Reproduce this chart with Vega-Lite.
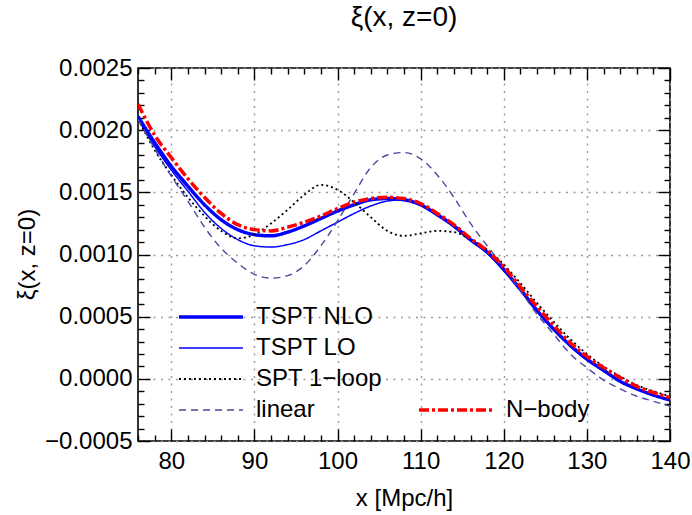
{
  "$schema": "https://vega.github.io/schema/vega-lite/v6.json",
  "width": 532,
  "height": 373,
  "autosize": {"type": "none"},
  "padding": {"left": 138, "top": 68, "right": 22, "bottom": 74},
  "background": "white",
  "config": {
    "font": "Liberation Sans",
    "view": {"stroke": "black", "strokeWidth": 1.6},
    "axis": {"domain": false, "labelFont": "Liberation Sans", "titleFont": "Liberation Sans", "labelColor": "black", "titleColor": "black", "tickColor": "black", "tickWidth": 1.4, "titleFontWeight": "normal"},
    "legend": {"labelFont": "Liberation Sans", "labelFontSize": 24, "labelColor": "black", "labelLimit": 300}
  },
  "title": {"text": "ξ(x, z=0)", "fontSize": 28, "fontWeight": "normal", "font": "Liberation Sans", "color": "black", "offset": 24, "anchor": "middle"},
  "datasets": {
    "curves": [
      {"x":76,"y":0.00211,"s":"TSPT NLO"},{"x":78,"y":0.00190,"s":"TSPT NLO"},{"x":80,"y":0.00171,"s":"TSPT NLO"},{"x":82,"y":0.00155,"s":"TSPT NLO"},{"x":84,"y":0.00140,"s":"TSPT NLO"},{"x":86,"y":0.00128,"s":"TSPT NLO"},{"x":88,"y":0.00120,"s":"TSPT NLO"},{"x":90,"y":0.00116,"s":"TSPT NLO"},{"x":92,"y":0.00115,"s":"TSPT NLO"},{"x":94,"y":0.00118,"s":"TSPT NLO"},{"x":96,"y":0.00123,"s":"TSPT NLO"},{"x":98,"y":0.00129,"s":"TSPT NLO"},{"x":100,"y":0.00135,"s":"TSPT NLO"},{"x":102,"y":0.00140,"s":"TSPT NLO"},{"x":104,"y":0.00144,"s":"TSPT NLO"},{"x":106,"y":0.00145,"s":"TSPT NLO"},{"x":108,"y":0.00144,"s":"TSPT NLO"},{"x":110,"y":0.00140,"s":"TSPT NLO"},{"x":112,"y":0.00132,"s":"TSPT NLO"},{"x":114,"y":0.00123,"s":"TSPT NLO"},{"x":116,"y":0.00112,"s":"TSPT NLO"},{"x":118,"y":0.00102,"s":"TSPT NLO"},{"x":120,"y":0.00088,"s":"TSPT NLO"},{"x":122,"y":0.00072,"s":"TSPT NLO"},{"x":124,"y":0.00055,"s":"TSPT NLO"},{"x":126,"y":0.00040,"s":"TSPT NLO"},{"x":128,"y":0.00027,"s":"TSPT NLO"},{"x":130,"y":0.00016,"s":"TSPT NLO"},{"x":132,"y":0.00007,"s":"TSPT NLO"},{"x":134,"y":-0.00002,"s":"TSPT NLO"},{"x":136,"y":-0.00008,"s":"TSPT NLO"},{"x":138,"y":-0.00013,"s":"TSPT NLO"},{"x":140,"y":-0.00017,"s":"TSPT NLO"},
      {"x":76,"y":0.00209,"s":"TSPT LO"},{"x":78,"y":0.00187,"s":"TSPT LO"},{"x":80,"y":0.00168,"s":"TSPT LO"},{"x":82,"y":0.00151,"s":"TSPT LO"},{"x":84,"y":0.00134,"s":"TSPT LO"},{"x":86,"y":0.00121,"s":"TSPT LO"},{"x":88,"y":0.00112,"s":"TSPT LO"},{"x":90,"y":0.00107,"s":"TSPT LO"},{"x":92,"y":0.00106,"s":"TSPT LO"},{"x":94,"y":0.00108,"s":"TSPT LO"},{"x":96,"y":0.00112,"s":"TSPT LO"},{"x":98,"y":0.00119,"s":"TSPT LO"},{"x":100,"y":0.00126,"s":"TSPT LO"},{"x":102,"y":0.00133,"s":"TSPT LO"},{"x":104,"y":0.00139,"s":"TSPT LO"},{"x":106,"y":0.00143,"s":"TSPT LO"},{"x":108,"y":0.00144,"s":"TSPT LO"},{"x":110,"y":0.00140,"s":"TSPT LO"},{"x":112,"y":0.00132,"s":"TSPT LO"},{"x":114,"y":0.00122,"s":"TSPT LO"},{"x":116,"y":0.00111,"s":"TSPT LO"},{"x":118,"y":0.00101,"s":"TSPT LO"},{"x":120,"y":0.00087,"s":"TSPT LO"},{"x":122,"y":0.00071,"s":"TSPT LO"},{"x":124,"y":0.00055,"s":"TSPT LO"},{"x":126,"y":0.00040,"s":"TSPT LO"},{"x":128,"y":0.00026,"s":"TSPT LO"},{"x":130,"y":0.00015,"s":"TSPT LO"},{"x":132,"y":0.00006,"s":"TSPT LO"},{"x":134,"y":-0.00002,"s":"TSPT LO"},{"x":136,"y":-0.00008,"s":"TSPT LO"},{"x":138,"y":-0.00013,"s":"TSPT LO"},{"x":140,"y":-0.00017,"s":"TSPT LO"},
      {"x":76,"y":0.00209,"s":"SPT 1−loop"},{"x":78,"y":0.00184,"s":"SPT 1−loop"},{"x":80,"y":0.00164,"s":"SPT 1−loop"},{"x":82,"y":0.00146,"s":"SPT 1−loop"},{"x":84,"y":0.00131,"s":"SPT 1−loop"},{"x":86,"y":0.00119,"s":"SPT 1−loop"},{"x":88,"y":0.00113,"s":"SPT 1−loop"},{"x":90,"y":0.00116,"s":"SPT 1−loop"},{"x":92,"y":0.00125,"s":"SPT 1−loop"},{"x":94,"y":0.00136,"s":"SPT 1−loop"},{"x":96,"y":0.00148,"s":"SPT 1−loop"},{"x":98,"y":0.00156,"s":"SPT 1−loop"},{"x":100,"y":0.00152,"s":"SPT 1−loop"},{"x":102,"y":0.00142,"s":"SPT 1−loop"},{"x":104,"y":0.00130,"s":"SPT 1−loop"},{"x":106,"y":0.00119,"s":"SPT 1−loop"},{"x":108,"y":0.00115,"s":"SPT 1−loop"},{"x":110,"y":0.00117,"s":"SPT 1−loop"},{"x":112,"y":0.00119,"s":"SPT 1−loop"},{"x":114,"y":0.00118,"s":"SPT 1−loop"},{"x":116,"y":0.00112,"s":"SPT 1−loop"},{"x":118,"y":0.00104,"s":"SPT 1−loop"},{"x":120,"y":0.00092,"s":"SPT 1−loop"},{"x":122,"y":0.00077,"s":"SPT 1−loop"},{"x":124,"y":0.00061,"s":"SPT 1−loop"},{"x":126,"y":0.00046,"s":"SPT 1−loop"},{"x":128,"y":0.00032,"s":"SPT 1−loop"},{"x":130,"y":0.00020,"s":"SPT 1−loop"},{"x":132,"y":0.00010,"s":"SPT 1−loop"},{"x":134,"y":0.00002,"s":"SPT 1−loop"},{"x":136,"y":-0.00005,"s":"SPT 1−loop"},{"x":138,"y":-0.00010,"s":"SPT 1−loop"},{"x":140,"y":-0.00014,"s":"SPT 1−loop"},
      {"x":76,"y":0.00209,"s":"linear"},{"x":78,"y":0.00185,"s":"linear"},{"x":80,"y":0.00163,"s":"linear"},{"x":82,"y":0.00143,"s":"linear"},{"x":84,"y":0.00122,"s":"linear"},{"x":86,"y":0.00105,"s":"linear"},{"x":88,"y":0.00093,"s":"linear"},{"x":90,"y":0.00084,"s":"linear"},{"x":92,"y":0.00081,"s":"linear"},{"x":94,"y":0.00083,"s":"linear"},{"x":96,"y":0.00091,"s":"linear"},{"x":98,"y":0.00107,"s":"linear"},{"x":100,"y":0.00127,"s":"linear"},{"x":102,"y":0.00149,"s":"linear"},{"x":104,"y":0.00170,"s":"linear"},{"x":106,"y":0.00180,"s":"linear"},{"x":108,"y":0.00182,"s":"linear"},{"x":110,"y":0.00177,"s":"linear"},{"x":112,"y":0.00164,"s":"linear"},{"x":114,"y":0.00146,"s":"linear"},{"x":116,"y":0.00125,"s":"linear"},{"x":118,"y":0.00107,"s":"linear"},{"x":120,"y":0.00090,"s":"linear"},{"x":122,"y":0.00071,"s":"linear"},{"x":124,"y":0.00052,"s":"linear"},{"x":126,"y":0.00036,"s":"linear"},{"x":128,"y":0.00020,"s":"linear"},{"x":130,"y":0.00009,"s":"linear"},{"x":132,"y":-0.00001,"s":"linear"},{"x":134,"y":-0.00008,"s":"linear"},{"x":136,"y":-0.00014,"s":"linear"},{"x":138,"y":-0.00018,"s":"linear"},{"x":140,"y":-0.00022,"s":"linear"}
    ],
    "nbody": [
      {"x":76,"y":0.00221,"s":"N−body"},{"x":78,"y":0.00196,"s":"N−body"},{"x":80,"y":0.00178,"s":"N−body"},{"x":82,"y":0.00161,"s":"N−body"},{"x":84,"y":0.00146,"s":"N−body"},{"x":86,"y":0.00133,"s":"N−body"},{"x":88,"y":0.00124,"s":"N−body"},{"x":90,"y":0.00120,"s":"N−body"},{"x":92,"y":0.00119,"s":"N−body"},{"x":94,"y":0.00122,"s":"N−body"},{"x":96,"y":0.00126,"s":"N−body"},{"x":98,"y":0.00131,"s":"N−body"},{"x":100,"y":0.00137,"s":"N−body"},{"x":102,"y":0.00142,"s":"N−body"},{"x":104,"y":0.00145,"s":"N−body"},{"x":106,"y":0.00146,"s":"N−body"},{"x":108,"y":0.00145,"s":"N−body"},{"x":110,"y":0.00141,"s":"N−body"},{"x":112,"y":0.00133,"s":"N−body"},{"x":114,"y":0.00124,"s":"N−body"},{"x":116,"y":0.00113,"s":"N−body"},{"x":118,"y":0.00103,"s":"N−body"},{"x":120,"y":0.00090,"s":"N−body"},{"x":122,"y":0.00074,"s":"N−body"},{"x":124,"y":0.00058,"s":"N−body"},{"x":126,"y":0.00043,"s":"N−body"},{"x":128,"y":0.00029,"s":"N−body"},{"x":130,"y":0.00018,"s":"N−body"},{"x":132,"y":0.00009,"s":"N−body"},{"x":134,"y":0.00001,"s":"N−body"},{"x":136,"y":-0.00006,"s":"N−body"},{"x":138,"y":-0.00011,"s":"N−body"},{"x":140,"y":-0.00015,"s":"N−body"}
    ]
  },
  "resolve": {
    "scale": {"color": "independent", "strokeDash": "independent", "strokeWidth": "independent"},
    "legend": {"color": "independent", "strokeDash": "independent", "strokeWidth": "independent"},
    "axis": {"x": "independent", "y": "independent"}
  },
  "layer": [
    {
      "data": {"name": "curves"},
      "mark": {"type": "line", "interpolate": "monotone", "clip": true},
      "encoding": {
        "x": {"field": "x", "type": "quantitative", "scale": {"domain": [76, 140], "nice": false, "zero": false},
          "axis": {"orient": "bottom", "values": [80, 90, 100, 110, 120, 130, 140], "ticks": false, "grid": true, "gridColor": "#9a9a9a", "gridDash": [2, 5.5], "gridWidth": 1.4, "labelFontSize": 24, "labelPadding": 8, "title": "x [Mpc/h]", "titleFontSize": 24, "titlePadding": 13, "labelFlush": false}},
        "y": {"field": "y", "type": "quantitative", "scale": {"domain": [-0.0005, 0.0025], "nice": false, "zero": false},
          "axis": {"orient": "left", "values": [-0.0005, 0, 0.0005, 0.001, 0.0015, 0.002, 0.0025], "format": ".4f", "ticks": false, "grid": true, "gridColor": "#9a9a9a", "gridDash": [2, 5.5], "gridWidth": 1.4, "labelFontSize": 24, "labelPadding": 6, "title": "ξ(x, z=0)", "titleFontSize": 24, "titleX": -99, "titleY": 186, "labelFlush": false}},
        "color": {"field": "s", "type": "nominal", "sort": null, "scale": {"domain": ["TSPT NLO", "TSPT LO", "SPT 1−loop", "linear"], "range": ["#0000ff", "#0000ff", "#000000", "#4a4aa0"]},
          "legend": {"orient": "none", "legendX": 39, "legendY": 237, "title": null, "symbolType": "stroke", "symbolSize": 4096, "clipHeight": 24, "rowPadding": 7, "labelOffset": 11, "padding": 0}},
        "strokeDash": {"field": "s", "type": "nominal", "sort": null, "scale": {"domain": ["TSPT NLO", "TSPT LO", "SPT 1−loop", "linear"], "range": [[1, 0], [1, 0], [2, 3], [7, 5]]},
          "legend": {"orient": "none", "legendX": 39, "legendY": 237, "title": null, "symbolType": "stroke", "symbolSize": 4096, "clipHeight": 24, "rowPadding": 7, "labelOffset": 11, "padding": 0}},
        "strokeWidth": {"field": "s", "type": "nominal", "sort": null, "scale": {"type": "ordinal", "domain": ["TSPT NLO", "TSPT LO", "SPT 1−loop", "linear"], "range": [3.5, 1.5, 1.8, 1.4]},
          "legend": {"orient": "none", "legendX": 39, "legendY": 237, "title": null, "symbolType": "stroke", "symbolSize": 4096, "clipHeight": 24, "rowPadding": 7, "labelOffset": 11, "padding": 0}}
      }
    },
    {
      "data": {"name": "nbody"},
      "mark": {"type": "line", "interpolate": "monotone", "clip": true, "strokeWidth": 3.5, "strokeDash": [10, 3, 3, 3]},
      "encoding": {
        "x": {"field": "x", "type": "quantitative", "axis": null},
        "y": {"field": "y", "type": "quantitative", "axis": null},
        "color": {"field": "s", "type": "nominal", "scale": {"domain": ["N−body"], "range": ["#ff0000"]},
          "legend": {"orient": "none", "legendX": 279, "legendY": 330, "title": null, "symbolType": "stroke", "symbolSize": 5476, "symbolStrokeWidth": 3.5, "symbolDash": [10, 3, 3, 3], "clipHeight": 24, "labelOffset": 11, "padding": 0}}
      }
    },
    {
      "data": {"name": "curves"},
      "mark": {"type": "point", "opacity": 0, "size": 0},
      "encoding": {
        "x": {"field": "x", "type": "quantitative", "axis": {"orient": "bottom", "values": [80, 90, 100, 110, 120, 130, 140], "tickSize": -12, "labels": false, "grid": false, "title": null}},
        "y": {"field": "y", "type": "quantitative", "axis": {"orient": "left", "values": [-0.0005, 0, 0.0005, 0.001, 0.0015, 0.002, 0.0025], "tickSize": -12, "labels": false, "grid": false, "title": null}}
      }
    },
    {
      "data": {"name": "curves"},
      "mark": {"type": "point", "opacity": 0, "size": 0},
      "encoding": {
        "x": {"field": "x", "type": "quantitative", "axis": {"orient": "bottom", "values": [76, 78, 82, 84, 86, 88, 92, 94, 96, 98, 102, 104, 106, 108, 112, 114, 116, 118, 122, 124, 126, 128, 132, 134, 136, 138], "tickSize": -6, "labels": false, "grid": false, "title": null}},
        "y": {"field": "y", "type": "quantitative", "axis": {"orient": "left", "values": [-0.0004, -0.0003, -0.0002, -0.0001, 0.0001, 0.0002, 0.0003, 0.0004, 0.0006, 0.0007, 0.0008, 0.0009, 0.0011, 0.0012, 0.0013, 0.0014, 0.0016, 0.0017, 0.0018, 0.0019, 0.0021, 0.0022, 0.0023, 0.0024], "tickSize": -6, "labels": false, "grid": false, "title": null}}
      }
    },
    {
      "data": {"name": "curves"},
      "mark": {"type": "point", "opacity": 0, "size": 0},
      "encoding": {
        "x": {"field": "x", "type": "quantitative", "axis": {"orient": "top", "values": [80, 90, 100, 110, 120, 130, 140], "tickSize": -12, "labels": false, "grid": false, "title": null}},
        "y": {"field": "y", "type": "quantitative", "axis": {"orient": "right", "values": [-0.0005, 0, 0.0005, 0.001, 0.0015, 0.002, 0.0025], "tickSize": -12, "labels": false, "grid": false, "title": null}}
      }
    },
    {
      "data": {"name": "curves"},
      "mark": {"type": "point", "opacity": 0, "size": 0},
      "encoding": {
        "x": {"field": "x", "type": "quantitative", "axis": {"orient": "top", "values": [76, 78, 82, 84, 86, 88, 92, 94, 96, 98, 102, 104, 106, 108, 112, 114, 116, 118, 122, 124, 126, 128, 132, 134, 136, 138], "tickSize": -6, "labels": false, "grid": false, "title": null}},
        "y": {"field": "y", "type": "quantitative", "axis": {"orient": "right", "values": [-0.0004, -0.0003, -0.0002, -0.0001, 0.0001, 0.0002, 0.0003, 0.0004, 0.0006, 0.0007, 0.0008, 0.0009, 0.0011, 0.0012, 0.0013, 0.0014, 0.0016, 0.0017, 0.0018, 0.0019, 0.0021, 0.0022, 0.0023, 0.0024], "tickSize": -6, "labels": false, "grid": false, "title": null}}
      }
    }
  ]
}
